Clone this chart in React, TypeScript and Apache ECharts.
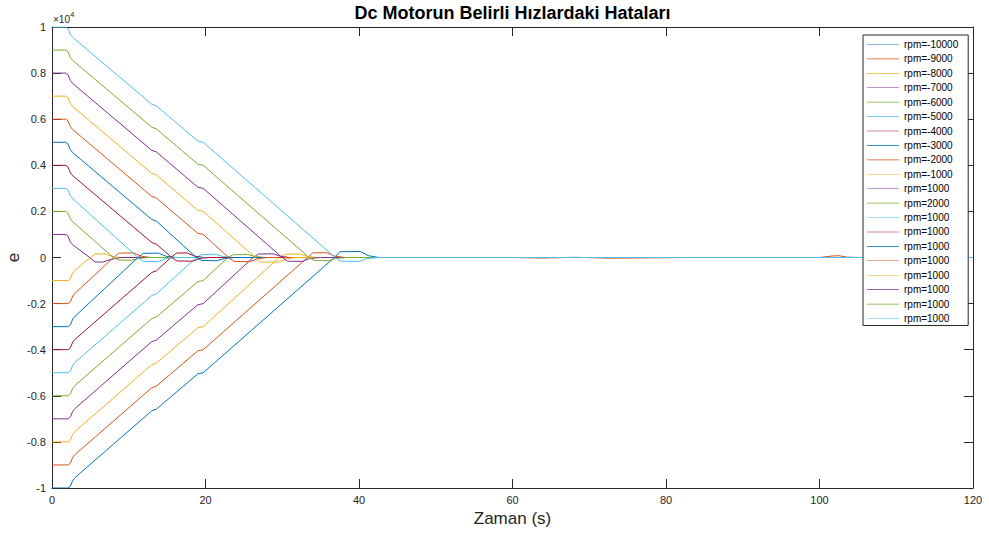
import React, { useEffect, useRef } from 'react';
import * as echarts from 'echarts';

// ---- data (time [s], error e) ----
const neg10000 = [[0,-10000],[2.1,-10000],[2.4,-9920],[2.7,-9670],[3.0,-9550],[13.0,-6650],[13.6,-6580],[19.0,-5050],[19.7,-5000],[36.8,0],[37.5,250],[40.2,260],[41.2,80],[42.6,0],[120,0]];
const neg9000 = [[0,-9000],[2.1,-9000],[2.4,-8920],[2.7,-8670],[3.0,-8550],[13.0,-5650],[13.6,-5580],[19.0,-4050],[19.7,-4000],[33.3,0],[34.0,200],[35.8,210],[36.8,60],[38.2,0],[120,0]];
const neg8000 = [[0,-8000],[2.1,-8000],[2.4,-7920],[2.7,-7670],[3.0,-7550],[13.0,-4650],[13.6,-4580],[19.0,-3050],[19.7,-3000],[29.6,0],[30.3,140],[32.3,150],[33.3,40],[34.6,0],[120,0]];
const neg7000 = [[0,-7000],[2.1,-7000],[2.4,-6920],[2.7,-6670],[3.0,-6550],[13.0,-3650],[13.6,-3580],[19.0,-2050],[19.7,-2000],[26.2,0],[26.9,150],[28.8,160],[29.8,50],[31.0,0],[120,0]];
const neg6000 = [[0,-6000],[2.1,-6000],[2.4,-5920],[2.7,-5670],[3.0,-5550],[13.0,-2650],[13.6,-2580],[19.0,-1050],[19.7,-1000],[22.9,0],[23.6,120],[25.5,130],[26.5,40],[27.8,0],[120,0]];
const neg5000 = [[0,-5000],[2.1,-5000],[2.4,-4920],[2.7,-4670],[3.0,-4550],[13.0,-1650],[13.6,-1580],[18.8,0],[19.5,130],[21.3,140],[22.3,40],[23.5,0],[120,0]];
const neg4000 = [[0,-4000],[2.1,-4000],[2.4,-3920],[2.7,-3670],[3.0,-3550],[13.0,-650],[13.6,-580],[15.5,0],[16.2,190],[17.6,200],[18.6,60],[19.8,0],[120,0]];
const neg3000 = [[0,-3000],[2.1,-3000],[2.4,-2920],[2.7,-2670],[3.0,-2550],[11.2,0],[11.9,180],[13.9,190],[14.9,50],[16.2,0],[120,0]];
const neg2000 = [[0,-2000],[2.1,-2000],[2.4,-1920],[2.7,-1670],[3.0,-1550],[8.0,0],[8.7,190],[10.6,200],[11.6,60],[12.8,0],[60,0],[64,-25],[68,10],[73,-30],[78,-15],[83,0],[120,0]];
const neg1000 = [[0,-1000],[2.1,-1000],[2.4,-920],[2.7,-670],[3.0,-550],[5.0,0],[5.6,150],[6.9,160],[7.8,50],[8.9,-10],[10.0,0],[120,0]];
const pos1000 = [[0,1000],[1.8,1000],[2.1,920],[2.4,670],[2.7,550],[4.9,0],[5.6,-190],[6.6,-200],[7.6,-90],[8.9,0],[120,0]];
const pos2000 = [[0,2000],[1.8,2000],[2.1,1920],[2.4,1670],[2.7,1550],[8.0,0],[8.7,-110],[10.3,-120],[11.3,-40],[12.5,0],[120,0]];
const pos3000 = [[0,3000],[1.8,3000],[2.1,2920],[2.4,2670],[2.7,2550],[11.2,0],[11.9,-170],[13.8,-180],[14.8,-50],[16.0,0],[120,0]];
const pos4000 = [[0,4000],[1.8,4000],[2.1,3920],[2.4,3670],[2.7,3550],[13.0,650],[13.6,580],[15.6,0],[16.3,-150],[18.3,-160],[19.3,-40],[20.5,0],[120,0]];
const pos5000 = [[0,5000],[1.8,5000],[2.1,4920],[2.4,4670],[2.7,4550],[13.0,1650],[13.6,1580],[18.8,0],[19.5,-130],[21.5,-140],[22.5,-40],[23.8,0],[120,0]];
const pos6000 = [[0,6000],[1.8,6000],[2.1,5920],[2.4,5670],[2.7,5550],[13.0,2650],[13.6,2580],[19.0,1050],[19.7,1000],[23.0,0],[23.7,-170],[25.8,-180],[26.8,-50],[28.0,0],[100,0],[101.5,60],[102.5,80],[103.5,20],[105,0],[120,0]];
const pos7000 = [[0,7000],[1.8,7000],[2.1,6920],[2.4,6670],[2.7,6550],[13.0,3650],[13.6,3580],[19.0,2050],[19.7,2000],[26.5,0],[27.2,-200],[29.5,-200],[30.5,-60],[31.8,0],[120,0]];
const pos8000 = [[0,8000],[1.8,8000],[2.1,7920],[2.4,7670],[2.7,7550],[13.0,4650],[13.6,4580],[19.0,3050],[19.7,3000],[30.0,0],[30.7,-160],[32.6,-170],[33.6,-40],[35.0,0],[120,0]];
const pos9000 = [[0,9000],[1.8,9000],[2.1,8920],[2.4,8670],[2.7,8550],[13.0,5650],[13.6,5580],[19.0,4050],[19.7,4000],[33.5,0],[34.2,-130],[36.0,-140],[37.0,-40],[38.3,0],[120,0]];
const pos10000 = [[0,10000],[1.8,10000],[2.1,9920],[2.4,9670],[2.7,9550],[13.0,6650],[13.6,6580],[19.0,5050],[19.7,5000],[36.9,0],[37.6,-160],[40.0,-170],[41.0,-50],[42.5,0],[120,0]];

const seriesData = [
  neg10000, neg9000, neg8000, neg7000, neg6000, neg5000, neg4000, neg3000, neg2000, neg1000,
  pos1000, pos2000, pos3000, pos4000, pos5000, pos6000, pos7000, pos8000, pos9000, pos10000,
];

const rpmLabels = [
  'rpm=-10000', 'rpm=-9000', 'rpm=-8000', 'rpm=-7000', 'rpm=-6000', 'rpm=-5000', 'rpm=-4000',
  'rpm=-3000', 'rpm=-2000', 'rpm=-1000', 'rpm=1000', 'rpm=2000', 'rpm=1000', 'rpm=1000',
  'rpm=1000', 'rpm=1000', 'rpm=1000', 'rpm=1000', 'rpm=1000', 'rpm=1000',
];

const titleText = 'Dc Motorun Belirli Hızlardaki Hataları';
const xName = 'Zaman (s)';
const yName = 'e';

// ---- styles ----
const palette = ['#0072BD', '#D95319', '#EDB120', '#7E2F8E', '#77AC30', '#4DBEEE', '#A2142F'];
const FONT = 'Liberation Sans, Arial, Helvetica, sans-serif';
const AX = '#262626';

export default function App() {
  const ref = useRef<HTMLDivElement>(null);
  useEffect(() => {
    const chart = echarts.init(ref.current!, null, { renderer: 'svg' });
    const names = seriesData.map((_, i) => 's' + i);
    const axisCommon = {
      axisLine: { show: true, onZero: false, lineStyle: { color: AX, width: 1 } },
      axisTick: { show: true, inside: true, length: 9, lineStyle: { color: AX, width: 1 } },
      splitLine: { show: false },
    };
    const option: any = {
      animation: false,
      backgroundColor: '#ffffff',
      grid: { left: 52, right: 16, top: 27, bottom: 52, containLabel: false, outerBoundsMode: 'none' },
      xAxis: [
        {
          type: 'value', min: 0, max: 120, interval: 20, position: 'bottom',
          ...axisCommon,
          axisLabel: { margin: 6, fontSize: 11, color: AX, fontFamily: FONT },
          name: xName, nameLocation: 'middle', nameGap: 22, nameMoveOverlap: false,
          nameTextStyle: { fontSize: 17, color: AX, fontFamily: FONT },
        },
        {
          type: 'value', min: 0, max: 120, interval: 20, position: 'top',
          ...axisCommon, axisLabel: { show: false },
        },
      ],
      yAxis: [
        {
          type: 'value', min: -10000, max: 10000, interval: 2000, position: 'left',
          ...axisCommon,
          axisLabel: {
            margin: 6, fontSize: 11, color: AX, fontFamily: FONT,
            formatter: (v: number) => String(Math.round(v / 1000) / 10),
          },
          name: yName, nameLocation: 'middle', nameGap: 30, nameMoveOverlap: false,
          nameTextStyle: { fontSize: 17, color: AX, fontFamily: FONT },
        },
        {
          type: 'value', min: -10000, max: 10000, interval: 2000, position: 'right',
          ...axisCommon, axisLabel: { show: false },
        },
      ],
      legend: {
        orient: 'vertical', left: 863, top: 35,
        padding: [4.5, 10, 2, 4],
        itemWidth: 32, itemHeight: 10, itemGap: 4.42,
        icon: 'path://M0,0L0,0.01M0,4L100,4L100,6L0,6ZM0,10L0,10.01',
        itemStyle: { borderWidth: 0, opacity: 1 },
        borderColor: AX, borderWidth: 1, backgroundColor: '#fff',
        selectedMode: false,
        textStyle: { fontSize: 10, lineHeight: 10, color: '#000', fontFamily: FONT },
        formatter: (n: string) => rpmLabels[Number(n.slice(1))],
        data: names,
      },
      graphic: [
        {
          type: 'text', x: 512.5, y: 13,
          style: { text: titleText, fontSize: 18, fontWeight: 'bold', fontFamily: FONT, fill: '#000', align: 'center', verticalAlign: 'middle' },
        },
        {
          type: 'text', x: 53, y: 19,
          style: { text: '×10', fontSize: 10, fontFamily: FONT, fill: AX, align: 'left', verticalAlign: 'middle' },
        },
        {
          type: 'text', x: 70, y: 14,
          style: { text: '4', fontSize: 8, fontFamily: FONT, fill: AX, align: 'left', verticalAlign: 'middle' },
        },
      ],
      series: seriesData.map((d, i) => ({
        name: names[i],
        type: 'line',
        data: d,
        xAxisIndex: 0,
        yAxisIndex: 0,
        symbol: 'none',
        showSymbol: false,
        color: palette[i % palette.length],
        itemStyle: { color: palette[i % palette.length] },
        lineStyle: { width: 1, color: palette[i % palette.length] },
        emphasis: { disabled: true },
        silent: true,
      })),
    };
    chart.setOption(option);
    return () => chart.dispose();
  }, []);
  return (
    <div
      ref={ref}
      style={{ position: 'fixed', left: 0, top: 0, width: 989, height: 540, background: '#fff' }}
    />
  );
}
